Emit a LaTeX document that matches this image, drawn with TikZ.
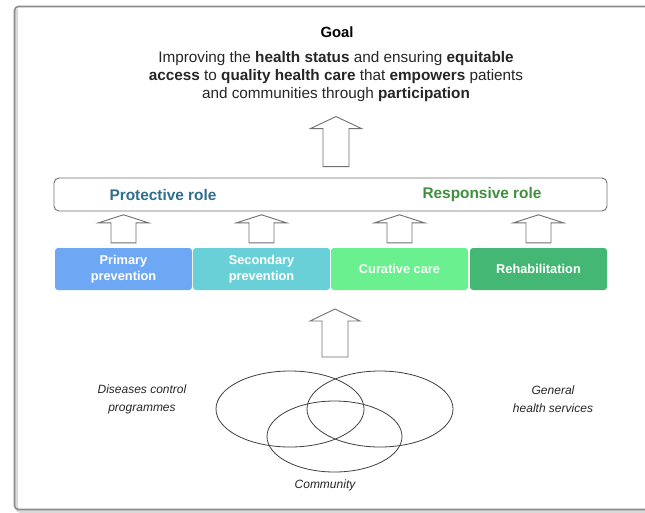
\documentclass[tikz,border=0pt]{standalone}
\usepackage{fontspec}
\setmainfont{Liberation Sans}
\usetikzlibrary{shapes.geometric,calc}
\definecolor{cprim}{HTML}{6EA8F5}
\definecolor{csec}{HTML}{6AD0D8}
\definecolor{ccur}{HTML}{6AF08F}
\definecolor{creh}{HTML}{45B775}
\definecolor{cprot}{HTML}{2F6F8C}
\definecolor{cresp}{HTML}{3F8F3F}
\definecolor{cline}{HTML}{707070}
\tikzset{
  blockarr/.style={draw=cline, line width=0.9pt, fill=white, line join=miter},
  pics/uparr/.style n args={4}{code={
    \draw[blockarr] ({-#3},0) -- ({-#3},{-#2}) -- ({-#4},{-#2}) -- (0,{-#1})
      -- ({#4},{-#2}) -- ({#3},{-#2}) -- ({#3},0) -- cycle;
  }},
  carebox/.style={rounded corners=3pt, minimum width=137pt, minimum height=42pt,
    text=white, font=\fontsize{12.8}{16}\selectfont\bfseries, align=center, inner sep=0pt},
  rolebox/.style={draw=cline, line width=0.9pt, rounded corners=5pt, fill=white,
    minimum width=553pt, minimum height=33pt, inner sep=0pt},
  roletext/.style={font=\fontsize{15.4}{17}\selectfont\bfseries},
  vset/.style={draw=black!75, line width=0.8pt, ellipse, inner sep=0pt},
  lab/.style={font=\fontsize{12}{18}\selectfont\itshape, align=center, text=black!85},
}
\begin{document}
\begin{tikzpicture}[x=1pt,y=-1pt]
\fill[white] (0,0) rectangle (645,512);
\useasboundingbox (0,0) rectangle (645,512);
% frame
\draw[line width=3pt, black!15, rounded corners=4pt] (16.5,9) -- (16.5,511.5) -- (645,511.5);
\draw[line width=1.6pt, black!45, rounded corners=4pt] (645,6.5) -- (14.5,6.5) -- (14.5,509.5) -- (645,509.5);

% goal
\node[font=\fontsize{14.8}{17}\selectfont\bfseries] (goal) at (337,32) {Goal};
\node[font=\fontsize{15.3}{18}\selectfont, align=center, text=black!85, anchor=north] (goaltext) at (336,47.5)
  {Improving the \textbf{health status} and ensuring \textbf{equitable}\\
   \textbf{access} to \textbf{quality health care} that \textbf{empowers} patients\\
   and communities through \textbf{participation}};

% roles
\node[rolebox] (roles) at (330.5,194.5) {};
\node[roletext, text=cprot] (prot) at (163,195) {Protective role};
\node[roletext, text=cresp] (resp) at (482,195) {Responsive role};

% care boxes
\node[carebox, fill=cprim] (prim) at (123.5,269) {Primary\\prevention};
\node[carebox, fill=csec] (sec) at (261.5,269) {Secondary\\prevention};
\node[carebox, fill=ccur] (cur) at (399.5,269) {Curative care};
\node[carebox, fill=creh] (reh) at (538.5,269) {Rehabilitation};

% small arrows
\foreach \b in {prim,sec,cur,reh}
  \path (\b.north) ++(0,-5) pic {uparr={28}{20}{12.5}{25}};
\path (roles.north) ++(5.5,-11) coordinate (bigbase);
\path (bigbase) pic {uparr={50}{38}{13}{25.5}};

% sets
\node[vset, minimum width=148pt, minimum height=76pt] (dis) at (290,409) {};
\node[vset, minimum width=146pt, minimum height=76pt] (gen) at (380,409) {};
\node[vset, minimum width=135pt, minimum height=71pt] (com) at (334.5,436.5) {};
\coordinate (botbase) at (335,357);
\path (botbase) pic {uparr={48}{36}{13}{25}};

\node[lab] (dislab) at (142,399) {Diseases control\\programmes};
\node[lab] (genlab) at (553,399) {General\\health services};
\node[lab] (comlab) at (325,485) {Community};
\end{tikzpicture}
\end{document}
